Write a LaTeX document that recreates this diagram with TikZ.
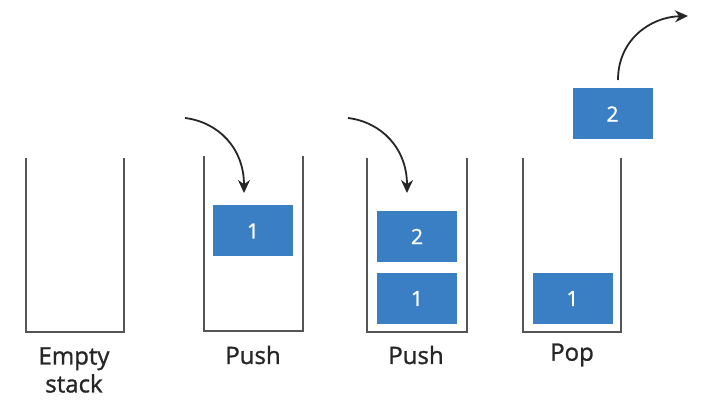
\documentclass[tikz,border=0pt]{standalone}
\usepackage{fontspec}
\setmainfont{Open Sans}
\newfontfamily\heavyfont[FakeBold=1.2]{Open Sans}
\usetikzlibrary{arrows.meta}
\definecolor{boxblue}{HTML}{3A7EC4}
\definecolor{wall}{HTML}{555555}
\begin{document}
\begin{tikzpicture}[x=1pt,y=-1pt,
  wallline/.style={draw=wall,line width=1.8pt},
  item/.style={fill=boxblue,draw=none,minimum width=80pt,minimum height=51pt,inner sep=0pt,text=white,font=\heavyfont\fontsize{21}{21}\selectfont},
  caption/.style={font=\heavyfont\fontsize{24}{28}\selectfont,text=black!85,align=center,inner sep=0pt},
  mover/.style={draw=black!85,line width=1.8pt,-{Stealth[length=13pt,width=12pt]}}]
\useasboundingbox (0,0) rectangle (705,406);
% stacks
\draw[wallline] (26,158) -- (26,332) -- (124,332) -- (124,158);
\draw[wallline] (204,156) -- (204,331) -- (303,331) -- (303,156);
\draw[wallline] (367,158) -- (367,332) -- (467,332) -- (467,158);
\draw[wallline] (523,158) -- (523,332) -- (621,332) -- (621,158);
% items
\node[item] (a1) at (253,231) {1};
\node[item] (b2) at (417,236.5) {2};
\node[item] (b1) at (417,298.5) {1};
\node[item] (c1) at (572.5,298.5) {1};
\node[item] (c2) at (612.5,114) {2};
% captions
\node[caption] (l1) at (74,370) {Empty\\stack};
\node[caption] (l2) at (253,355) {Push};
\node[caption] (l3) at (416,355) {Push};
\node[caption] (l4) at (572,355) {Pop};
% arrows
\coordinate (s1) at (185,118);
\coordinate (e1) at (244,193);
\coordinate (s2) at (348,118);
\coordinate (e2) at (407,193);
\coordinate (s3) at (618,80);
\coordinate (e3) at (688,16);
\draw[mover] (s1) .. controls (218,122) and (244,148) .. (e1);
\draw[mover] (s2) .. controls (381,122) and (407,148) .. (e2);
\draw[mover] (s3) .. controls (618,40) and (650,17) .. (e3);
\end{tikzpicture}
\end{document}
